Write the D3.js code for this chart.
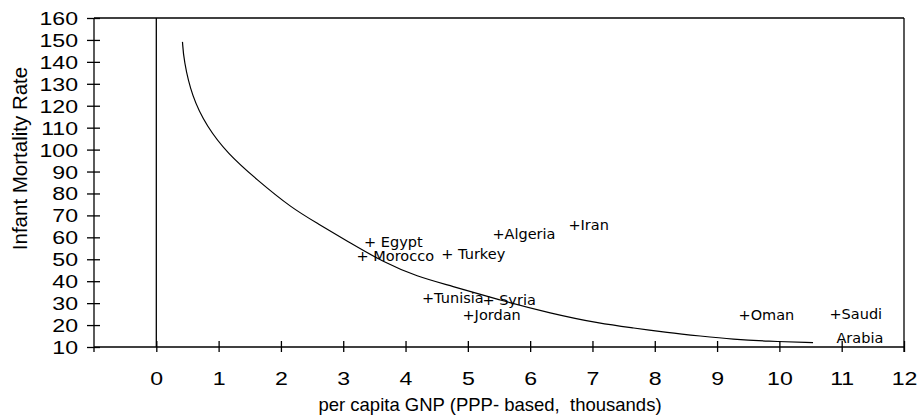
<!DOCTYPE html>
<html>
<head>
<meta charset="utf-8">
<script src="https://cdn.jsdelivr.net/npm/d3@7"></script>
<style>
  html, body { margin: 0; padding: 0; background: #fff; }
  svg { display: block; }
</style>
</head>
<body>
<svg id="chart" width="917" height="417"></svg>
<script>
// Infant mortality against per capita GNP (PPP-based), with a fitted trend curve.
const countries = ["Egypt", "Morocco", "Turkey", "Algeria", "Iran", "Tunisia", "Syria", "Jordan", "Oman", "Saudi Arabia"];
const pointLabels = ["+ Egypt", "+ Morocco", "+ Turkey", "+Algeria", "+Iran", "+Tunisia", "+ Syria", "+Jordan", "+Oman", "+Saudi|Arabia"];
const gnp = [3.43, 3.31, 4.67, 5.49, 6.71, 4.36, 5.33, 5.01, 9.44, 10.9];
const imr = [57.9, 51.4, 52.6, 61.8, 65.6, 32.4, 31.6, 24.9, 24.5, 25.2];

// Trend curve
const trendX = [0.42, 0.44, 0.57, 0.81, 1.14, 1.62, 2.18, 2.58, 3.11, 3.64, 4.19, 4.72, 5.52, 6.32, 7.13, 7.66, 8.20, 8.73, 9.26, 9.80, 10.54];
const trendY = [149.1, 140.9, 124.2, 110.5, 98.3, 86.1, 73.2, 66.5, 57.4, 48.8, 42.0, 38.0, 31.3, 25.4, 20.6, 18.7, 16.6, 15.0, 13.5, 12.6, 12.0];

const xTicks = [0, 1, 2, 3, 4, 5, 6, 7, 8, 9, 10, 11, 12];
const yTicks = [10, 20, 30, 40, 50, 60, 70, 80, 90, 100, 110, 120, 130, 140, 150, 160];

const xTitle = "per capita GNP (PPP- based,  thousands)";
const yTitle = "Infant Mortality Rate";

const svg = d3.select("#chart");
const plotLeft = 94, plotRight = 904, plotTop = 18, plotBottom = 347;

const x = d3.scaleLinear().domain([-1, 12]).range([plotLeft, plotRight]);
const y = d3.scaleLinear().domain([10, 160]).range([plotBottom, plotTop]);

const axisFont = "'Liberation Sans', Arial, sans-serif";
const labelFont = "'DejaVu Sans', Verdana, sans-serif";

// Frame
const frame = svg.append("g").attr("stroke", "#000").attr("stroke-width", 1.3).attr("fill", "none");
frame.append("line").attr("x1", plotLeft).attr("x2", plotRight).attr("y1", plotTop).attr("y2", plotTop);
frame.append("line").attr("x1", plotRight).attr("x2", plotRight).attr("y1", plotTop).attr("y2", plotBottom + 5);
frame.append("line").attr("x1", plotLeft).attr("x2", plotLeft).attr("y1", plotTop).attr("y2", plotBottom + 5);
// vertical line at x = 0
frame.append("line").attr("x1", x(0)).attr("x2", x(0)).attr("y1", plotTop).attr("y2", plotBottom);

// Y axis
const yAxis = d3.axisLeft(y).tickValues(yTicks).tickSize(6).tickPadding(0).tickFormat(d3.format("d"));
const gy = svg.append("g").attr("transform", `translate(${plotLeft},0)`).call(yAxis);
gy.select(".domain").remove();
gy.selectAll(".tick line").attr("x1", 6).attr("x2", -7).attr("stroke", "#000").attr("stroke-width", 1.3);
gy.selectAll(".tick text").remove();
gy.selectAll(".tick").append("text")
  .attr("transform", "translate(-16,0) scale(1.25,1)")
  .attr("text-anchor", "end")
  .attr("dy", "0.35em")
  .attr("fill", "#000")
  .style("font-family", axisFont)
  .style("font-size", "18.5px")
  .text(d => d);

// X axis
const xAxis = d3.axisBottom(x).tickValues(xTicks).tickSize(6).tickPadding(0).tickFormat(d3.format("d"));
const gx = svg.append("g").attr("transform", `translate(0,${plotBottom})`).call(xAxis);
gx.select(".domain").attr("d", `M${plotLeft},0H${plotRight}`).attr("stroke", "#000").attr("stroke-width", 1.3);
gx.selectAll(".tick line").attr("y1", -6).attr("y2", 5).attr("stroke", "#000").attr("stroke-width", 1.3);
gx.selectAll(".tick text").remove();
gx.selectAll(".tick").append("text")
  .attr("transform", "translate(0,38) scale(1.25,1)")
  .attr("text-anchor", "middle")
  .attr("fill", "#000")
  .style("font-family", axisFont)
  .style("font-size", "18.5px")
  .text(d => d);

// Axis titles
svg.append("text")
  .attr("x", 490)
  .attr("y", 411)
  .attr("text-anchor", "middle")
  .attr("xml:space", "preserve")
  .style("white-space", "pre")
  .style("font-family", axisFont)
  .style("font-size", "18.5px")
  .text(xTitle);

svg.append("text")
  .attr("transform", `translate(27,${(plotTop + plotBottom) / 2 - 24}) rotate(-90)`)
  .attr("text-anchor", "middle")
  .style("font-family", axisFont)
  .style("font-size", "20.5px")
  .text(yTitle);

// Trend curve
const trend = trendX.map((d, i) => [d, trendY[i]]);
svg.append("path")
  .datum(trend)
  .attr("fill", "none")
  .attr("stroke", "#000")
  .attr("stroke-width", 1.2)
  .attr("d", d3.line().x(d => x(d[0])).y(d => y(d[1])).curve(d3.curveBasis));

// Country markers: the "+" of each label sits on the data point
const pts = svg.append("g")
  .style("font-family", labelFont)
  .style("font-size", "14.5px")
  .attr("fill", "#000");

countries.forEach((c, i) => {
  const lines = pointLabels[i].split("|");
  const t = pts.append("text")
    .attr("x", x(gnp[i]) - 6)
    .attr("y", y(imr[i]))
    .attr("dy", "0.36em");
  t.append("tspan").text(lines[0]);
  if (lines.length > 1) {
    t.append("tspan")
      .attr("x", x(gnp[i]) + 1)
      .attr("dy", 24.5)
      .text(lines[1]);
  }
});
</script>
</body>
</html>
